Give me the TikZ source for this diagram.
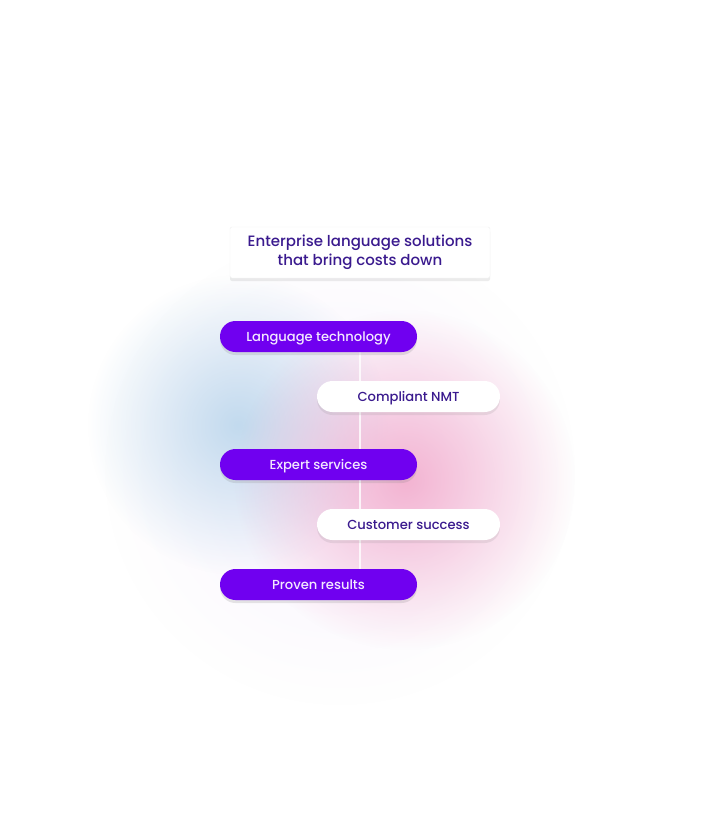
\documentclass[tikz,border=0pt]{standalone}
\usepackage{fontspec}
\setmainfont{Poppins Medium}
\usetikzlibrary{positioning,shadows,fadings,backgrounds}
\definecolor{violetpill}{HTML}{7000F0}
\definecolor{inkblue}{HTML}{3A1A8E}
\definecolor{pilltext}{HTML}{F3E8FF}
\definecolor{glowblue}{HTML}{C2DAEE}
\definecolor{glowpink}{HTML}{F2A8CA}
\tikzfading[name=glowfade, inner color=transparent!0, outer color=transparent!100]
\tikzset{
  pill/.style={rounded corners=15.5pt, minimum height=31pt, inner sep=0pt,
    text height=9pt, text depth=0pt, font=\fontsize{13.1}{15}\selectfont},
  darkpill/.style={pill, minimum width=197pt, fill=violetpill, text=pilltext,
    drop shadow={shadow xshift=0pt, shadow yshift=-3pt, opacity=0.2}},
  lightpill/.style={pill, minimum width=183pt, fill=white, text=inkblue,
    drop shadow={shadow xshift=0pt, shadow yshift=-3pt, opacity=0.15}},
  headbox/.style={rounded corners=2pt, minimum width=260pt, minimum height=51pt,
    fill=white, draw=black!6, text=inkblue, align=center,
    font=\fontsize{15}{18.5}\selectfont,
    drop shadow={shadow xshift=0pt, shadow yshift=-3pt, opacity=0.15}},
  spine/.style={white, line width=1.2pt, opacity=0.8}
}
\begin{document}
\begin{tikzpicture}[x=1pt,y=-1pt]
  \useasboundingbox (0,0) rectangle (720,828);

  % soft glows behind the list
  \begin{scope}[on background layer]
    \fill[white] (0,0) rectangle (720,828);
    \fill[violetpill!5, path fading=glowfade] (340,470) circle (235);
    \fill[glowblue, path fading=glowfade] (238,425) circle (150);
    \fill[glowpink, opacity=0.85, path fading=glowfade] (405,480) circle (170);
  \end{scope}

  % heading
  \node[headbox] (title) at (360,252.5) {Enterprise language solutions\\that bring costs down};

  % steps
  \node[darkpill] (lang) at (318.5,336.5) {Language technology};
  \node[lightpill] (nmt) at (408.5,396.5) {Compliant NMT};
  \node[darkpill] (expert) at (318.5,464.5) {Expert services};
  \node[lightpill] (cust) at (408.5,524.5) {Customer success};
  \node[darkpill] (proven) at (318.5,584.5) {Proven results};

  % thin line through the steps
  \coordinate (axis) at (360,0);
  \begin{scope}[on background layer]
    \draw[spine] (lang.south -| axis) -- (proven.north -| axis);
  \end{scope}
\end{tikzpicture}
\end{document}
